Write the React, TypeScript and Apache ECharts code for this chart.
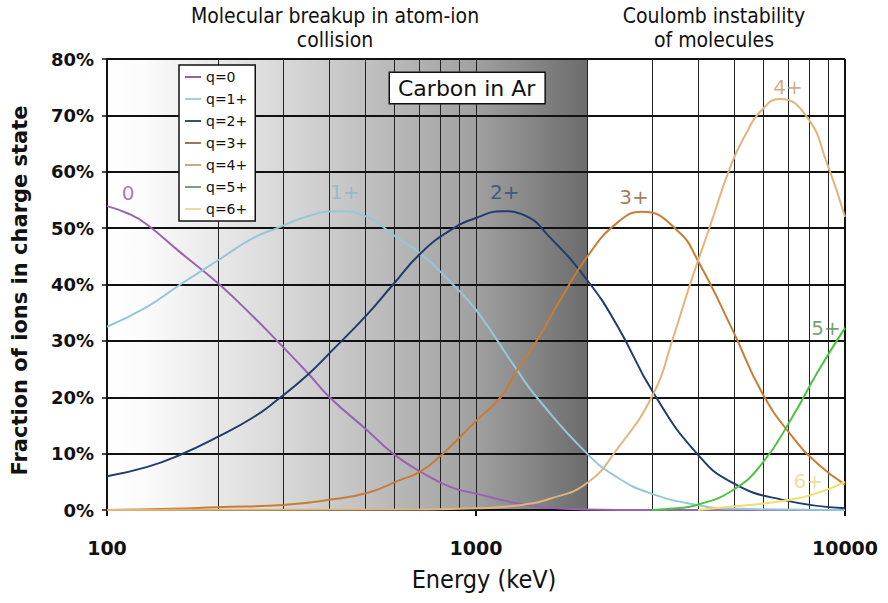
import React, { useEffect, useRef } from "react";
import * as echarts from "echarts";

// ---- data (energy keV, percent) ----
const q0Data: [number, number][] = [
  [100, 53.9], [114, 52.6], [128, 50.7], [158, 45.7], [200, 40.2], [250, 34.2], [289, 30], [350, 24.3],
  [401, 20], [506, 14.2], [596, 10], [707, 6.8], [851, 4.1], [1000, 2.9], [1292, 1.2],
  [1585, 0.4], [2000, 0.1], [3000, 0], [10000, 0],
];
const q1Data: [number, number][] = [
  [100, 32.5], [128, 36], [158, 40], [200, 44.3], [250, 48.3], [289, 50], [350, 52.1],
  [420, 53], [506, 52], [596, 48.8], [707, 45.5], [851, 40.5], [1000, 35.5], [1292, 24.8],
  [1460, 20], [2000, 10], [2400, 5.9], [2960, 3], [3970, 0.9], [5000, 0.2], [10000, 0],
];
const q2Data: [number, number][] = [
  [100, 6], [128, 7.6], [158, 9.8], [200, 13], [250, 16.5], [289, 19.5], [350, 24],
  [409, 28.4], [506, 34.6], [596, 40], [707, 45.5], [851, 49.6], [1000, 51.8], [1180, 53],
  [1350, 52.3], [1585, 48.4], [2000, 40.8], [2400, 33], [3030, 20.7], [3970, 10],
  [4960, 4.8], [6780, 1.8], [10000, 0.3],
];
const q3Data: [number, number][] = [
  [100, 0], [150, 0.2], [200, 0.5], [300, 0.9], [401, 1.8], [506, 3], [621, 5.3],
  [707, 6.8], [814, 10], [1000, 15.8], [1166, 20], [1292, 24.8], [1460, 30], [1690, 37.2],
  [2000, 44.9], [2400, 50.8], [2820, 52.9], [3510, 49.6], [4010, 44], [4960, 31.9],
  [5970, 20.7], [7200, 13], [8400, 8.3], [10000, 4.5],
];
const q4Data: [number, number][] = [
  [100, 0], [700, 0.1], [1000, 0.3], [1292, 0.8], [1585, 2], [2000, 4.8], [2400, 10.6],
  [3030, 20.7], [3400, 30], [3810, 40.2], [4300, 50.2], [4930, 61.5], [5420, 67],
  [5880, 70.6], [6660, 72.9], [7890, 69.7], [8940, 61.5], [10000, 52],
];
const q5Data: [number, number][] = [
  [3000, 0], [3500, 0.3], [3970, 0.9], [4960, 3.5], [5970, 8.3], [7200, 16.5],
  [8400, 24.3], [10000, 32.3],
];
const q6Data: [number, number][] = [
  [4000, 0], [4960, 0.6], [6780, 1.6], [8400, 3], [10000, 5],
];

const seriesNames = ["q=0", "q=1+", "q=2+", "q=3+", "q=4+", "q=5+", "q=6+"];
const seriesData = [q0Data, q1Data, q2Data, q3Data, q4Data, q5Data, q6Data];
const seriesColors = ["#9a63b2", "#93c8da", "#1f3c6e", "#c77d35", "#e3b47a", "#4cc23e", "#f0e06a"];
const legendColors = ["#8a6a96", "#a8d0dc", "#3a5070", "#9a7a50", "#c8aa88", "#7aa07a", "#e8dca0"];

const curveLabels = [
  { name: "0", value: [114, 56.2], color: "#8a5f9a" },
  { name: "1+", value: [441, 56.4], color: "#8ab8cc" },
  { name: "2+", value: [1196, 56.4], color: "#2b4a7c" },
  { name: "3+", value: [2680, 55.5], color: "#8b5a2b" },
  { name: "4+", value: [7004, 75], color: "#c49a6c" },
  { name: "5+", value: [8888, 32.3], color: "#4f8a4f" },
  { name: "6+", value: [7950, 5.1], color: "#e6d78a" },
];

const shadedRange = [100, 2000];
const verticalGrid = [200, 300, 400, 500, 600, 700, 800, 900, 1000, 2000, 3000, 4000, 5000, 6000, 7000, 8000, 9000];
const rightEdge = 10000;

const condensed = "'DejaVu Sans Condensed', 'Liberation Sans Narrow', 'DejaVu Sans', sans-serif";
const legendIcon = "path://M0,0 M0,6 L16,6 L16,8 L0,8 Z M16,14";

export default function App() {
  const ref = useRef<HTMLDivElement>(null);
  useEffect(() => {
    if (!ref.current) return;
    const chart = echarts.init(ref.current, undefined, { renderer: "svg" });
    const gradient = new echarts.graphic.LinearGradient(0, 0, 1, 0, [
      { offset: 0, color: "#ffffff" },
      { offset: 0.08, color: "#fbfbfb" },
      { offset: 0.4, color: "#d4d4d4" },
      { offset: 0.77, color: "#a0a0a0" },
      { offset: 1, color: "#6c6c6c" },
    ]);
    const option: any = {
      animation: false,
      backgroundColor: "#ffffff",
      grid: { left: 107, right: 43, top: 59, bottom: 93 },
      legend: {
        data: seriesNames.map((n, i) => ({ name: n, icon: legendIcon, itemStyle: { color: legendColors[i] } })),
        orient: "vertical",
        left: 179,
        top: 65,
        itemGap: 8,
        itemWidth: 16,
        itemHeight: 14,
        padding: [5, 8, 5, 6],
        backgroundColor: "#ffffff",
        borderColor: "#111",
        borderWidth: 1.5,
        borderRadius: 0,
        textStyle: { fontFamily: "DejaVu Sans", fontSize: 14, color: "#111" },
      },
      graphic: [
        {
          type: "text", x: 335, y: 4, z: 10,
          style: {
            text: "Molecular breakup in atom-ion\ncollision", align: "center", verticalAlign: "top",
            font: `21px ${condensed}`, fill: "#111", lineHeight: 24,
          },
        },
        {
          type: "text", x: 714, y: 4, z: 10,
          style: {
            text: "Coulomb instability\nof molecules", align: "center", verticalAlign: "top",
            font: `21px ${condensed}`, fill: "#111", lineHeight: 24,
          },
        },
        {
          type: "text", x: 390, y: 73, z: 10,
          style: {
            text: "Carbon in Ar", font: "500 22px 'DejaVu Sans'", fill: "#111",
            backgroundColor: "#ffffff", borderColor: "#111", borderWidth: 1.5,
            padding: [4, 9, 4, 8],
          },
        },
      ],
      xAxis: {
        type: "log",
        logBase: 10,
        min: 100,
        max: 10000,
        name: "Energy (keV)",
        nameLocation: "middle",
        nameGap: 57,
        nameTextStyle: { fontFamily: condensed, fontSize: 25, color: "#111", padding: [0, 0, 0, 16] },
        axisLine: { show: true, onZero: false, lineStyle: { color: "#111", width: 2 } },
        axisTick: { show: true, length: 6, lineStyle: { color: "#111", width: 2 } },
        axisLabel: {
          fontFamily: "DejaVu Sans", fontWeight: "bold", fontSize: 19, color: "#111", margin: 28,
          formatter: (v: number) => String(Math.round(v)),
        },
        splitLine: { show: false },
        minorTick: { show: false },
      },
      yAxis: {
        type: "value",
        min: 0,
        max: 80,
        interval: 10,
        name: "Fraction of ions in charge state",
        nameLocation: "middle",
        nameGap: 77,
        nameTextStyle: {
          fontFamily: "DejaVu Sans", fontWeight: "bold", fontSize: 21, color: "#111",
          padding: [0, 12, 0, 0],
        },
        axisLine: { show: true, lineStyle: { color: "#111", width: 2 } },
        axisTick: { show: true, length: 5, lineStyle: { color: "#111", width: 1.5 } },
        axisLabel: {
          formatter: "{value}%", fontFamily: "DejaVu Sans", fontWeight: "bold", fontSize: 18,
          color: "#111", margin: 13,
        },
        splitLine: { show: true, lineStyle: { color: "#111", width: 2 } },
      },
      series: [
        {
          name: "bg",
          type: "line",
          data: [],
          silent: true,
          markArea: {
            z: -1,
            silent: true,
            itemStyle: { color: gradient },
            data: [[{ xAxis: shadedRange[0], yAxis: 0 }, { xAxis: shadedRange[1], yAxis: 80 }]],
          },
          markLine: {
            z: 1,
            silent: true,
            symbol: ["none", "none"],
            label: { show: false },
            lineStyle: { color: "#222", width: 1, type: "solid" },
            data: [
              ...verticalGrid.map((v) => ({ xAxis: v })),
              { xAxis: rightEdge, lineStyle: { color: "#111", width: 2, type: "solid" } },
            ],
          },
        },
        ...seriesNames.map((name, i) => ({
          name,
          type: "line",
          data: seriesData[i],
          smooth: 0.5,
          symbol: "none",
          z: 3,
          lineStyle: { color: seriesColors[i], width: 2 },
          itemStyle: { color: seriesColors[i] },
        })),
        {
          name: "labels",
          type: "scatter",
          symbolSize: 1,
          z: 4,
          itemStyle: { color: "rgba(0,0,0,0)" },
          silent: true,
          data: curveLabels.map((d) => ({
            name: d.name,
            value: d.value,
            label: {
              show: true, position: "inside", formatter: "{b}", color: d.color,
              fontFamily: "DejaVu Sans", fontSize: 20, fontWeight: 500,
            },
          })),
        },
      ],
    };
    chart.setOption(option);
    return () => chart.dispose();
  }, []);
  return <div ref={ref} style={{ position: "fixed", left: 0, top: 0, width: 888, height: 603 }} />;
}
